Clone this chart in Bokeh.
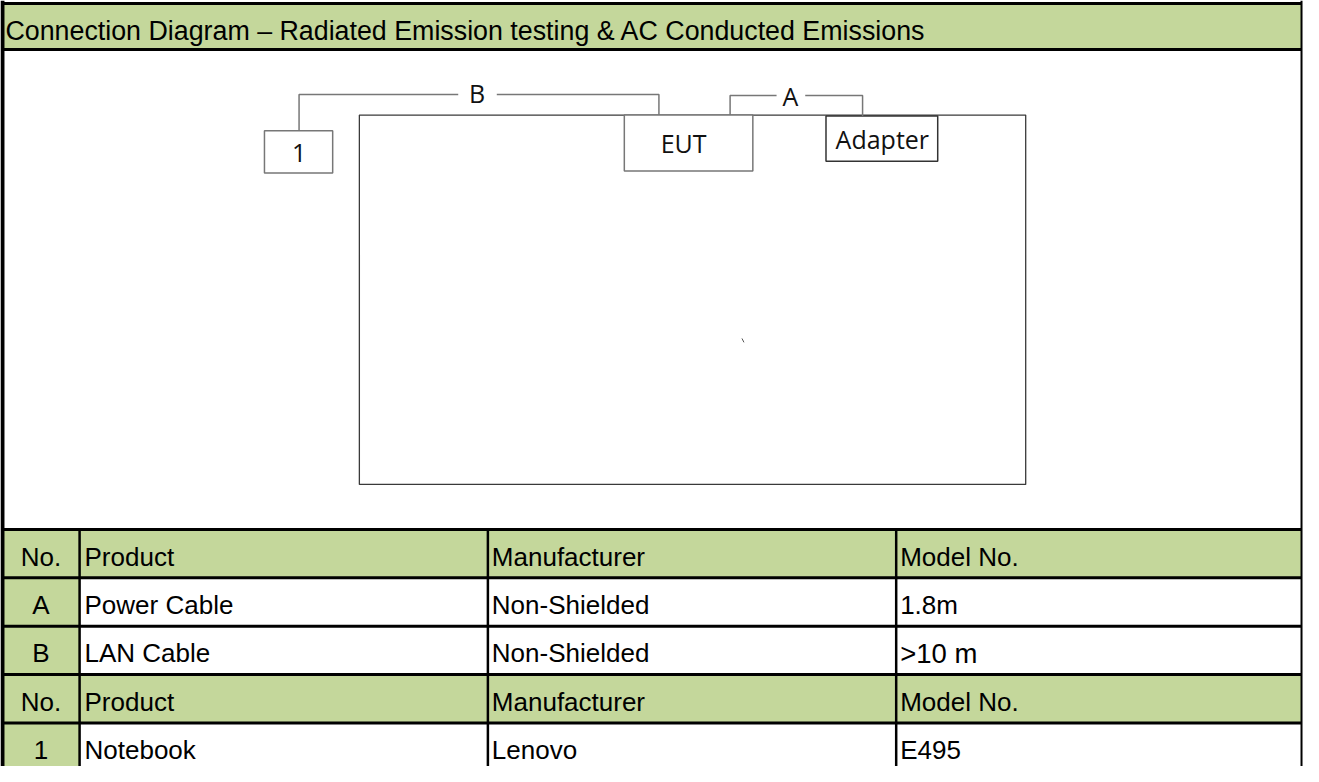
from bokeh.plotting import figure
from bokeh.models import Range1d
from bokeh.core.properties import value
from bokeh.embed import file_html
from bokeh.resources import INLINE

# ---------------- data ----------------
title_text = "Connection Diagram \u2013 Radiated Emission testing & AC Conducted Emissions"
header = ["No.", "Product", "Manufacturer", "Model No."]
cable_no = ["A", "B"]
cable_product = ["Power Cable", "LAN Cable"]
cable_manufacturer = ["Non-Shielded", "Non-Shielded"]
cable_model = ["1.8m", ">10 m"]
device_no = ["1"]
device_product = ["Notebook"]
device_manufacturer = ["Lenovo"]
device_model = ["E495"]
box_labels = ["1", "EUT", "Adapter"]
cable_labels = ["B", "A"]

# ---------------- layout ----------------
W, H = 1319, 782
GREEN = "#C4D79B"
TFONT = value("'Liberation Sans', Arial, sans-serif")
DFONT = value("'Open Sans', 'Noto Sans', sans-serif")

p = figure(width=1303, height=766, x_range=Range1d(1, W), y_range=Range1d(H, 0),
           output_backend="svg", toolbar_location=None,
           x_axis_location=None, y_axis_location=None,
           min_border=0, min_border_left=0, min_border_right=0,
           min_border_top=0, min_border_bottom=0)
p.grid.visible = False
p.outline_line_color = None
p.background_fill_color = "white"
p.border_fill_color = "white"

XL, XR = 3, 1317
col_edges = [XL, 81, 494, 907, XR]
row_top = 540
row_h = 49.4

rows = [header,
        [cable_no[0], cable_product[0], cable_manufacturer[0], cable_model[0]],
        [cable_no[1], cable_product[1], cable_manufacturer[1], cable_model[1]],
        header,
        [device_no[0], device_product[0], device_manufacturer[0], device_model[0]]]
is_header = [True, False, False, True, False]

# title bar
p.quad(left=[XL], right=[XR], top=[4], bottom=[50], fill_color=GREEN, line_color=None)
p.text(x=[6], y=[31], text=[title_text], text_font=TFONT, text_font_size="26.8px",
       text_baseline="middle", text_align="left", text_color="#000000")

# green cells
gl, gr, gt, gb = [], [], [], []
for i, hdr in enumerate(is_header):
    t = row_top + i * row_h
    b = min(t + row_h, H + 10)
    gl.append(col_edges[0])
    gr.append(col_edges[-1] if hdr else col_edges[1])
    gt.append(t); gb.append(b)
p.quad(left=gl, right=gr, top=gt, bottom=gb, fill_color=GREEN, line_color=None)

# table texts
tx, ty, tt, ta, ts = [], [], [], [], []
col_text_x = [42, 86, 498, 911]
for i, r in enumerate(rows):
    yc = row_top + i * row_h + row_h / 2 + 3
    for j, s in enumerate(r):
        tx.append(col_text_x[j]); ty.append(yc); tt.append(s)
        ta.append("center" if j == 0 else "left")
        ts.append("27.5px" if s == cable_model[1] else "26px")
p.text(x=tx, y=ty, text=tt, text_align=ta, text_font_size=ts, text_font=TFONT,
       text_baseline="middle", text_color="#000000")

# table lines
hl_y = [row_top + i * row_h for i in range(len(rows))]
p.segment(x0=[XL] * len(hl_y), x1=[XR] * len(hl_y), y0=hl_y, y1=hl_y,
          line_color="black", line_width=3)
p.segment(x0=col_edges[1:-1], x1=col_edges[1:-1], y0=[row_top] * 3, y1=[H + 5] * 3,
          line_color="black", line_width=2.5)
# outer frame
p.segment(x0=[XL, XL, XL], x1=[XR, XR, XL], y0=[3, 50, 0], y1=[3, 50, H + 5],
          line_color="black", line_width=[3, 3, 4])
p.segment(x0=[XR], x1=[XR], y0=[0], y1=[H + 5], line_color="black", line_width=2)

# ---------------- diagram ----------------
# big table rectangle
p.quad(left=[364], right=[1038], top=[117], bottom=[494], fill_color=None,
       line_color="#3a3a3a", line_width=1.3)
# boxes: 1, EUT, Adapter
bx_l = [268, 632, 836]
bx_r = [337, 762, 949]
bx_t = [133, 117, 118]
bx_b = [176, 174, 164]
p.quad(left=bx_l, right=bx_r, top=bx_t, bottom=bx_b, fill_color="white",
       line_color=["#777777", "#777777", "#333333"], line_width=1.5)
p.text(x=[303, 692, 893], y=[156, 145, 141], text=box_labels, text_font=DFONT,
       text_font_size=["25px", "25px", "25px"], text_align="center",
       text_baseline="middle", text_color="#111111")
# cables
p.multi_line(xs=[[303, 303, 464], [503, 667, 667], [739, 739, 786], [815, 873, 873]],
             ys=[[133, 96, 96], [96, 96, 117], [117, 97, 97], [97, 97, 118]],
             line_color="#777777", line_width=1.5)
p.text(x=[483, 800], y=[94, 97], text=cable_labels, text_font=DFONT,
       text_font_size="25px", text_align="center", text_baseline="middle",
       text_color="#111111")
# stray mark
p.segment(x0=[751], x1=[753], y0=[345], y1=[349], line_color="#555555", line_width=1)

open("out.html", "w").write(file_html(p, INLINE))
